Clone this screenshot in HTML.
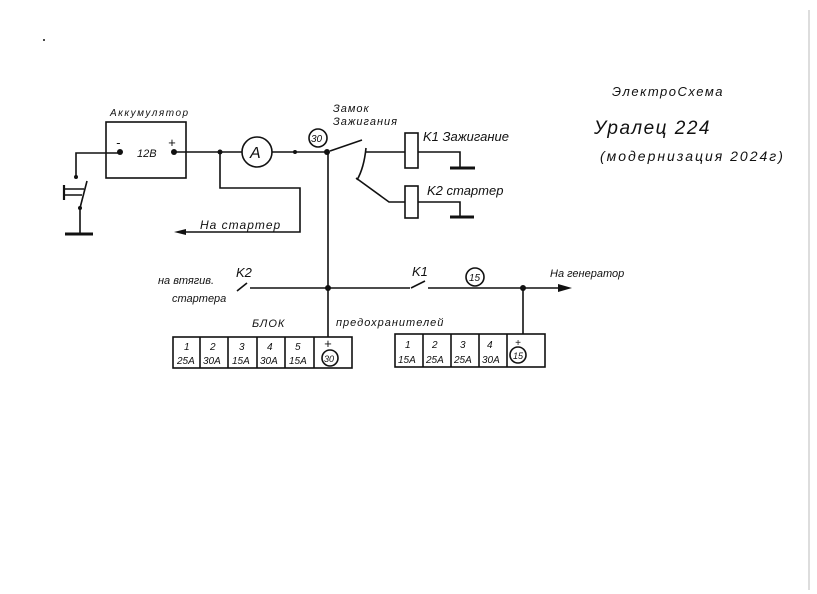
<!DOCTYPE html>
<html><head><meta charset="utf-8"><style>
html,body{margin:0;padding:0;background:#fff;}
svg{display:block}
text{font-family:"Liberation Sans",sans-serif;font-style:italic;fill:#111}
</style></head><body>
<svg width="817" height="594" viewBox="0 0 817 594" xmlns="http://www.w3.org/2000/svg">
<line x1="809" y1="10" x2="809" y2="590" stroke="#bbb" stroke-width="1"/>
<g stroke="#111" stroke-width="1.6" fill="none">
<rect x="106" y="122" width="80" height="56"/>
<polyline points="120,153 76,153 76,176"/>
<line x1="64" y1="189" x2="84" y2="189"/><line x1="64" y1="195" x2="82" y2="195"/>
<line x1="64" y1="185" x2="64" y2="200" stroke-width="2.2"/>
<line x1="87" y1="181" x2="80" y2="208"/>
<line x1="80" y1="208" x2="80" y2="234"/>
<line x1="65" y1="234" x2="93" y2="234" stroke-width="3"/>
<line x1="174" y1="152" x2="242" y2="152"/>
<circle cx="257" cy="152" r="15"/>
<line x1="272" y1="152" x2="328" y2="152"/>
<polyline points="220,152 220,188 300,188 300,232 178,232"/>
<line x1="330" y1="151" x2="362" y2="140"/>
<line x1="365" y1="152" x2="405" y2="152"/>
<path d="M366,148 Q364,168 357,180"/>
<polyline points="356,178 389,202 405,202"/>
<rect x="405" y="133" width="13" height="35"/>
<rect x="405" y="186" width="13" height="32"/>
<polyline points="418,152 460,152 460,168"/>
<line x1="450" y1="168" x2="475" y2="168" stroke-width="3"/>
<polyline points="418,202 460,202 460,217"/>
<line x1="450" y1="217" x2="474" y2="217" stroke-width="3"/>
<circle cx="318" cy="138" r="9"/>
<line x1="328" y1="152" x2="328" y2="337"/>
<line x1="237" y1="291" x2="247" y2="283"/>
<line x1="250" y1="288" x2="410" y2="288"/>
<line x1="411" y1="288" x2="425" y2="281"/>
<line x1="428" y1="288" x2="565" y2="288"/>
<line x1="523" y1="288" x2="523" y2="334"/>
<circle cx="475" cy="277" r="9"/>
<rect x="173" y="337" width="179" height="31"/>
<line x1="200" y1="337" x2="200" y2="368"/><line x1="228" y1="337" x2="228" y2="368"/>
<line x1="257" y1="337" x2="257" y2="368"/><line x1="285" y1="337" x2="285" y2="368"/>
<line x1="314" y1="337" x2="314" y2="368"/>
<rect x="395" y="334" width="150" height="33"/>
<line x1="423" y1="334" x2="423" y2="367"/><line x1="451" y1="334" x2="451" y2="367"/>
<line x1="479" y1="334" x2="479" y2="367"/><line x1="507" y1="334" x2="507" y2="367"/>
<circle cx="330" cy="358" r="8"/>
<circle cx="518" cy="355" r="8"/>
</g>
<g fill="#111">
<circle cx="120" cy="152" r="3"/><circle cx="174" cy="152" r="3"/>
<circle cx="76" cy="177" r="2"/><circle cx="80" cy="208" r="2"/>
<circle cx="220" cy="152" r="2.5"/><circle cx="295" cy="152" r="2"/>
<circle cx="327" cy="152" r="3"/><circle cx="328" cy="288" r="3"/><circle cx="523" cy="288" r="3"/>
<polygon points="572,288 558,284 558,292"/>
<polygon points="174,232 186,229 186,235"/>
<circle cx="44" cy="40" r="1"/>
</g>
<g font-size="11">
<text x="110" y="116" font-size="10" letter-spacing="1.5">Аккумулятор</text>
<text x="116" y="147" font-size="13">-</text>
<text x="168" y="147" font-size="13">+</text>
<text x="137" y="157">12В</text>
<text x="250" y="158" font-size="16" font-style="normal">A</text>
<text x="311" y="142" font-size="10">30</text>
<text x="333" y="112" letter-spacing="1">Замок</text>
<text x="333" y="125" letter-spacing="1">Зажигания</text>
<text x="423" y="141" font-size="13">K1 Зажигание</text>
<text x="427" y="195" font-size="13">K2  стартер</text>
<text x="200" y="229" font-size="12" letter-spacing="1">На стартер</text>
<text x="158" y="284">на втягив.</text>
<text x="172" y="302">стартера</text>
<text x="236" y="277" font-size="13">K2</text>
<text x="412" y="276" font-size="13">K1</text>
<text x="469" y="281" font-size="10">15</text>
<text x="550" y="277">На генератор</text>
<text x="252" y="327" letter-spacing="1">БЛОК</text>
<text x="336" y="326" letter-spacing="1">предохранителей</text>
<text x="612" y="96" font-size="13" letter-spacing="1.5">ЭлектроСхема</text>
<text x="594" y="134" font-size="19" letter-spacing="1.5">Уралец 224</text>
<text x="600" y="161" font-size="14" letter-spacing="2">(модернизация 2024г)</text>
</g>
<g font-size="10">
<text x="184" y="350">1</text><text x="177" y="364">25A</text>
<text x="210" y="350">2</text><text x="203" y="364">30A</text>
<text x="239" y="350">3</text><text x="232" y="364">15A</text>
<text x="267" y="350">4</text><text x="260" y="364">30A</text>
<text x="295" y="350">5</text><text x="289" y="364">15A</text>
<text x="324" y="348" font-size="13" font-style="normal">+</text>
<text x="324" y="362" font-size="9">30</text>
<text x="405" y="348">1</text><text x="398" y="363">15A</text>
<text x="432" y="348">2</text><text x="426" y="363">25A</text>
<text x="460" y="348">3</text><text x="454" y="363">25A</text>
<text x="487" y="348">4</text><text x="482" y="363">30A</text>
<text x="515" y="346" font-style="normal">+</text>
<text x="513" y="359" font-size="9">15</text>
</g>
</svg>
</body></html>
